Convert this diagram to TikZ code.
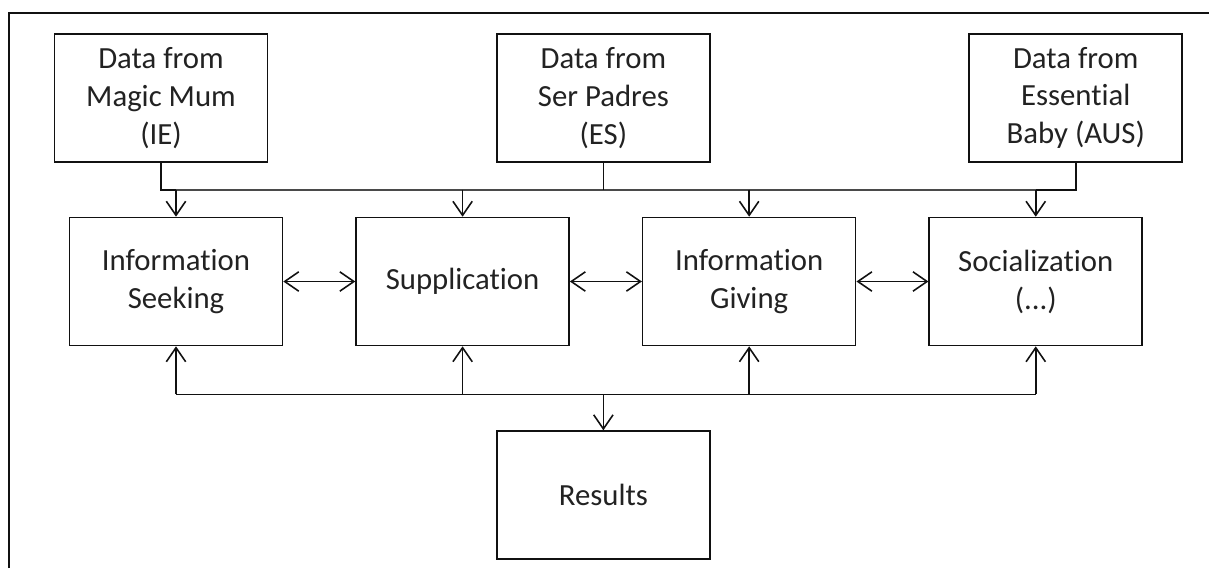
\documentclass[tikz,border=0pt]{standalone}
\usepackage{fontspec}
\setmainfont{Carlito}[Ligatures={NoCommon,NoContextual}]
\usepackage{tikz}
\usetikzlibrary{arrows.meta,positioning,calc}
\definecolor{cInk}{HTML}{111111}
\definecolor{cText}{HTML}{222222}
\definecolor{cBus}{HTML}{4A4A4A}

\begin{document}
\begin{tikzpicture}[font=\fontsize{17.5}{21.6}\selectfont, >={Straight Barb[length=8pt,width=11pt]},
  node distance=1.44cm, line width=0.9pt,
  box/.style={draw=cInk, text=cText, minimum width=4.26cm, minimum height=2.56cm, align=center, inner sep=2pt}]
  \useasboundingbox (0,0) rectangle (24.18,-11.36);
  \draw[cInk] (0.18,-11.36) |- (24.18,-0.26);
  % categories
  \node[box] (seek) at (3.52,-5.63) {Information\\Seeking};
  \node[box, right=of seek] (supp) {Supplication};
  \node[box, right=of supp] (give) {Information\\Giving};
  \node[box, right=of give] (social) {Socialization\\(...)};
  \coordinate (midN) at ($(supp.north)!0.5!(give.north)$);
  \coordinate (midS) at ($(supp.south)!0.5!(give.south)$);
  % sources
  \node[box, above=1.08cm of seek, xshift=-0.3cm] (magic) {Data from\\Magic Mum\\(IE)};
  \node[box, above=1.08cm of midN, xshift=-0.05cm] (padres) {Data from\\Ser Padres\\(ES)};
  \node[box, above=1.08cm of social, xshift=0.8cm] (baby) {Data from\\Essential\\Baby (AUS)};
  \node[box, below=1.68cm of midS, xshift=-0.05cm] (res) {Results};
  \coordinate (busT) at ($(seek.north)+(0,0.54)$);
  \coordinate (busB) at ($(seek.south)+(0,-0.96)$);
  % top bus
  \draw[cBus, line width=1.2pt] (seek.north |- busT) -- (social.north |- busT);
  \draw[cInk] (magic.south) |- (seek.north |- busT);
  \draw[cInk] (baby.south) |- (social.north |- busT);
  \draw[cInk] (padres.south) -- (padres.south |- busT);
  \foreach \n in {seek,supp,give,social}
    \draw[->, cInk] (\n.north |- busT) -- (\n.north);
  % side links
  \draw[<->, cInk] (seek) -- (supp);
  \draw[<->, cInk] (supp) -- (give);
  \draw[<->, cInk] (give) -- (social);
  % bottom bus
  \draw[cInk] (seek.south |- busB) -- (social.south |- busB);
  \foreach \n in {seek,supp,give,social}
    \draw[->, cInk] (\n.south |- busB) -- (\n.south);
  \draw[->, cInk] (res.north |- busB) -- (res.north);
\end{tikzpicture}
\end{document}
